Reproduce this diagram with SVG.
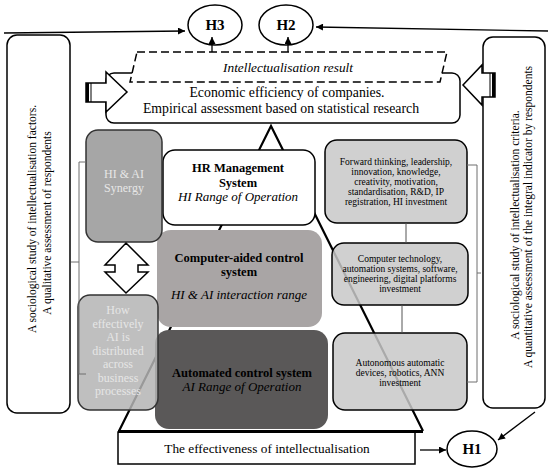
<svg xmlns="http://www.w3.org/2000/svg" width="550" height="475" viewBox="0 0 550 475" font-family="'Liberation Serif', 'DejaVu Serif', serif">
<defs>
<style>
text{font-family:'Liberation Serif','DejaVu Serif',serif;fill:#000}
.ln{stroke:#000;stroke-width:1.3;fill:none}
.br{stroke:#6e6e6e;stroke-width:1;fill:none}
.ell{fill:#fff;stroke:#000;stroke-width:1.5}
.h{font-size:15px;font-weight:bold;text-anchor:middle}
.side{fill:#fff;stroke:#000;stroke-width:1.5}
.vt{font-size:11.5px;text-anchor:middle}
.lb{fill:#c8c8c8;fill-opacity:0.85;stroke:#000;stroke-width:1.5}
.sm{font-size:9.5px;text-anchor:middle}
.b{font-size:12.5px;font-weight:bold;text-anchor:middle}
.it{font-size:13px;font-style:italic;text-anchor:middle}
.wt{fill:#e6e6e6;font-size:12px;text-anchor:middle}
.blk{fill:#fff;stroke:#000;stroke-width:1.5;stroke-linejoin:miter}
</style>
<marker id="ah" viewBox="0 0 10 10" refX="10" refY="5" markerWidth="8" markerHeight="7" markerUnits="userSpaceOnUse" orient="auto">
<path d="M0,0 L10,5 L0,10 z" fill="#000"/>
</marker>
</defs>
<rect width="550" height="475" fill="#fff"/>

<g id="left-study">
<rect class="side" x="7" y="35" width="63" height="378" rx="10"/>
<text class="vt" transform="translate(36,219) rotate(-90)">A sociological study of intellectualisation factors.</text>
<text class="vt" transform="translate(51,223) rotate(-90)">A qualitative assessment of respondents</text>
</g>

<g id="right-study">
<rect class="side" x="483" y="37" width="62" height="371" rx="10"/>
<text class="vt" transform="translate(519,225) rotate(-90)">A sociological study of intellectualisation criteria.</text>
<text class="vt" transform="translate(532,217) rotate(-90)">A quantitative assessment of the integral indicator by respondents</text>
</g>

<g id="economic">
<rect fill="#fff" stroke="#000" stroke-width="1.5" x="106" y="73" width="354" height="50" rx="8"/>
<text x="287" y="97" font-size="13.8" text-anchor="middle">Economic efficiency of companies.</text>
<text x="281" y="113" font-size="13.8" text-anchor="middle">Empirical assessment based on statistical research</text>
</g>

<g id="result">
<polygon points="137,52 447,52 440,82 130,82" fill="#fff" stroke="#000" stroke-width="1.5" stroke-dasharray="8,4"/>
<text x="288" y="72" font-size="13.3" font-style="italic" text-anchor="middle">Intellectualisation result</text>
</g>

<g id="left-block-arrow">
<polygon class="blk" points="86,83 106,83 106,72 127,92 106,112 106,102 86,102"/>
<line x1="87.5" y1="83" x2="87.5" y2="102" stroke="#000" stroke-width="3"/>
<line x1="91" y1="83" x2="91" y2="102" stroke="#000" stroke-width="1"/>
</g>

<g id="right-block-arrow">
<polygon class="blk" points="495,73 482,73 482,65 463,85 482,105 482,97 495,97"/>
<line x1="493.5" y1="73" x2="493.5" y2="97" stroke="#000" stroke-width="3"/>
<line x1="490" y1="73" x2="490" y2="97" stroke="#000" stroke-width="1"/>
</g>

<g id="pyramid">
<polyline points="119,431 271,126 423,431" fill="none" stroke="#000" stroke-width="2.2" stroke-linejoin="miter"/>
</g>

<g id="effectiveness">
<rect fill="#fff" stroke="#000" stroke-width="1.5" x="118" y="432" width="297" height="32"/>
<line x1="118" y1="431.5" x2="423" y2="431.5" stroke="#000" stroke-width="3"/>
<text x="267" y="453" font-size="13.3" text-anchor="middle">The effectiveness of intellectualisation</text>
</g>

<g id="hr">
<rect fill="#fff" stroke="#000" stroke-width="1.5" x="163" y="150" width="152" height="75" rx="12"/>
<text class="b" x="238" y="172">HR Management</text>
<text class="b" x="238" y="187">System</text>
<text class="it" x="238" y="201">HI Range of Operation</text>
</g>

<g id="computer-aided">
<rect fill="#a9a5a5" x="157" y="230" width="165" height="97" rx="14"/>
<text class="b" x="239" y="262">Computer-aided control</text>
<text class="b" x="239" y="276">system</text>
<text class="it" x="239" y="299">HI &amp; AI interaction range</text>
</g>

<g id="automated">
<rect fill="#5a5858" x="155" y="330" width="173" height="99" rx="14"/>
<text class="b" x="242" y="377">Automated control system</text>
<text class="it" x="242" y="391">AI Range of Operation</text>
</g>

<g id="synergy">
<rect fill="#a6a6a6" stroke="#333" stroke-width="1.5" x="86" y="130" width="76" height="112" rx="12"/>
<text class="wt" x="124" y="178">HI &amp; AI</text>
<text class="wt" x="124" y="192">Synergy</text>
</g>

<g id="distribution">
<rect fill="#b4b4b4" fill-opacity="0.85" stroke="#333" stroke-width="1.5" x="78" y="295" width="80" height="115" rx="12"/>
<text class="wt" x="118" y="314">How</text>
<text class="wt" x="118" y="328">effectively</text>
<text class="wt" x="118" y="341">AI is</text>
<text class="wt" x="118" y="355">distributed</text>
<text class="wt" x="118" y="368">across</text>
<text class="wt" x="118" y="382">business</text>
<text class="wt" x="118" y="395">processes</text>
</g>

<g id="double-arrow">
<polygon class="blk" points="126,243 148,265 138,265 138,272 148,272 126,293 105,272 115,272 115,265 105,265"/>
</g>

<g id="hi-factors">
<rect class="lb" x="325" y="140" width="142" height="83" rx="12"/>
<text class="sm" x="396" y="165">Forward thinking, leadership,</text>
<text class="sm" x="396" y="175">innovation, knowledge,</text>
<text class="sm" x="396" y="185">creativity, motivation,</text>
<text class="sm" x="396" y="195">standardisation, R&amp;D, IP</text>
<text class="sm" x="396" y="205">registration, HI investment</text>
</g>

<g id="tech-factors">
<rect class="lb" x="332" y="243" width="136" height="62" rx="12"/>
<text class="sm" x="400" y="262">Computer technology,</text>
<text class="sm" x="400" y="272">automation systems, software,</text>
<text class="sm" x="400" y="282">engineering, digital platforms</text>
<text class="sm" x="400" y="292">investment</text>
</g>

<g id="ai-factors">
<rect class="lb" x="333" y="333" width="134" height="77" rx="12"/>
<text class="sm" x="400" y="366">Autonomous automatic</text>
<text class="sm" x="400" y="376">devices, robotics, ANN</text>
<text class="sm" x="400" y="386">investment</text>
</g>

<g id="H3"><ellipse class="ell" cx="215" cy="25" rx="27" ry="20"/><text class="h" x="215" y="30">H3</text></g>
<g id="H2"><ellipse class="ell" cx="286" cy="25" rx="27" ry="20"/><text class="h" x="286" y="30">H2</text></g>
<g id="H1"><ellipse class="ell" cx="472" cy="449" rx="25" ry="18"/><text class="h" x="472" y="454">H1</text></g>

<g id="connectors">
<line class="ln" x1="4" y1="33" x2="185" y2="31" marker-end="url(#ah)"/>
<line class="ln" x1="548" y1="31" x2="316" y2="27" marker-end="url(#ah)"/>
<line class="ln" x1="212" y1="52" x2="212" y2="37" marker-end="url(#ah)"/>
<line class="ln" x1="288" y1="52" x2="288" y2="37" marker-end="url(#ah)"/>
<line class="ln" x1="420" y1="450" x2="446" y2="450" marker-end="url(#ah)"/>
<line class="ln" x1="535" y1="412" x2="498" y2="440" marker-end="url(#ah)"/>
<line x1="406" y1="223" x2="406" y2="243" stroke="#555" stroke-width="1"/>
<line x1="402" y1="305" x2="402" y2="333" stroke="#555" stroke-width="1"/>
<path class="br" d="M86,162 H79 V374 H86 M79,262 H71"/>
<path class="br" d="M467,165 H477 V382 H467 M477,273 H481"/>
</g>
</svg>
